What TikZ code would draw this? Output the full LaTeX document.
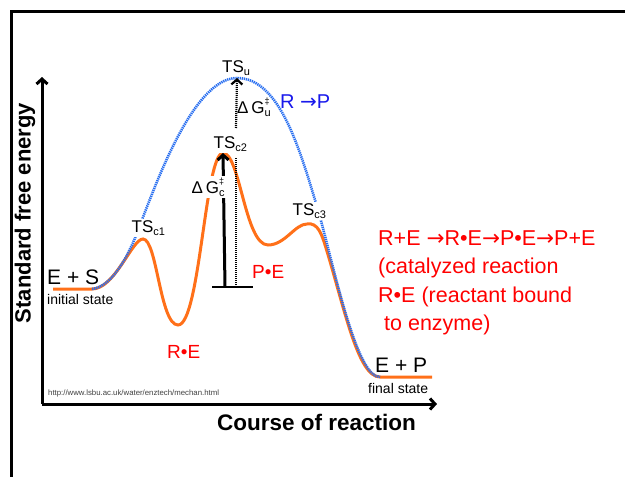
\documentclass[tikz,border=0pt]{standalone}
\usepackage{fontspec}
\setmainfont{Liberation Sans}
\newfontfamily\arrowfont{DejaVu Sans}
\usetikzlibrary{arrows.meta}
\definecolor{enzorange}{RGB}{255,112,25}
\definecolor{uncatblue}{RGB}{40,110,240}
\definecolor{rxblue}{RGB}{25,25,235}
\definecolor{rxred}{RGB}{255,0,0}
\newcommand\rarr{{\arrowfont →}}
\newcommand\lowsub[1]{\raisebox{-0.4ex}{\fontsize{11}{11}\selectfont #1}}
\newcommand\dgact[1]{Δ\,G\rlap{\raisebox{1.0ex}{\fontsize{9}{9}\selectfont ‡}}\raisebox{-0.4ex}{\fontsize{11}{11}\selectfont #1}}
\tikzset{
  catalysed/.style={enzorange,line width=3pt},
  uncat/.style={uncatblue,line width=2.6pt,dash pattern=on 1.3pt off 0.8pt},
  lbl/.style={anchor=base west,inner sep=0pt,font=\fontsize{17}{20}\selectfont},
  gaplbl/.style={lbl,fill=white,inner sep=1.5pt},
  redlbl/.style={lbl,rxred,font=\fontsize{19}{22}\selectfont},
  notetxt/.style={lbl,rxred,font=\fontsize{21.5}{24}\selectfont}
}
\begin{document}
\begin{tikzpicture}[x=1pt,y=-1pt,>={Straight Barb[length=5pt,width=11pt]}]
	\useasboundingbox (0,0) rectangle (625,477);
	\draw[line width=3pt] (11,477)--(11,11)--(625,11);
	% axes
	\coordinate (orig) at (42,404);\coordinate (ytop) at (42,77);\coordinate (xend) at (437,404);
	\draw[line width=3pt,->] (orig)--(ytop);\draw[line width=3pt,->] (orig)--(xend);
	\node[font=\bfseries\fontsize{22}{24}\selectfont,rotate=90] (ylab) at (25,213) {Standard free energy};
	\node[lbl,font=\bfseries\fontsize{22.5}{24}\selectfont] (xlab) at (217,430) {Course of reaction};
	\node[lbl,font=\fontsize{7.8}{8}\selectfont,black!75] (src) at (48,395) {http://www.lsbu.ac.uk/water/enztech/mechan.html};
	% key points
	\coordinate (es) at (53,289);\coordinate (tsc1) at (143,239);\coordinate (re) at (178,325);\coordinate (tsc2) at (223,153);
	\coordinate (pe) at (268,245);\coordinate (tsc3) at (307,224);\coordinate (ep) at (380,377);\coordinate (tsu) at (237,78);
	% catalysed
	\draw[catalysed] (es)--(92,289)..controls(115,289)and(132,239)..(tsc1)..controls(157,239)and(160,325)..(re)
		..controls(200,325)and(205,153)..(tsc2)..controls(240,153)and(245,245)..(pe)..controls(285,245)and(295,224)..(tsc3)
		..controls(318,222)and(322,235)..(326,248)..controls(345,310)and(358,377)..(ep)--(432,377);
	% uncatalysed
	\draw[uncat] (92,289)..controls(110,287)and(125,262)..(135,238)..controls(150,201)and(190,78)..(tsu)
		..controls(280,78)and(300,150)..(318,210)..controls(333,262)and(356,378)..(ep);
	% activation energies
	\coordinate (base) at (225,287);\coordinate (basel) at (212,287);\coordinate (baser) at (253,287);
	\draw[line width=2.2pt,dash pattern=on 1pt off 1pt] (236,287)--(236,157);
	\draw[line width=2.2pt,dash pattern=on 1pt off 1pt,->] (236,128)--(tsu);
	\draw[line width=2.5pt] (basel)--(baser);\draw[line width=3pt,->] (base)--(tsc2);
	% labels
	\node[lbl] (lbltsu) at (222,72) {TS\lowsub{u}};
	\node[gaplbl] (lbltsc1) at (130,232) {TS\lowsub{c1}};
	\node[gaplbl] (lbltsc2) at (212,148) {TS\lowsub{c2}};
	\node[gaplbl] (lbltsc3) at (291,215) {TS\lowsub{c3}};
	\node[lbl] (dgu) at (237,113) {\dgact{u}};
	\node[gaplbl] (dgc) at (190,193) {\dgact{c}};
	\node[lbl,rxblue,font=\fontsize{20}{24}\selectfont] (uncatrx) at (280,108) {R \rarr P};
	\node[lbl,font=\fontsize{21}{24}\selectfont] (lbles) at (47,284) {E + S};
	\node[lbl,font=\fontsize{14}{16}\selectfont] (init) at (47,304) {initial state};
	\node[lbl,font=\fontsize{21}{24}\selectfont] (lblep) at (375,372) {E + P};
	\node[lbl,font=\fontsize{14}{16}\selectfont] (final) at (368,393) {final state};
	\node[redlbl] (lblre) at (167,358) {R•E};\node[redlbl] (lblpe) at (252,278) {P•E};
	\foreach \t [count=\i] in {{R+E \rarr R•E\rarr P•E\rarr P+E},{(catalyzed reaction},{R•E (reactant bound},{\hspace*{6pt}to enzyme)}}
		\node[notetxt] (note\i) at (378,{245+28.5*(\i-1)}) {\t};
\end{tikzpicture}
\end{document}
